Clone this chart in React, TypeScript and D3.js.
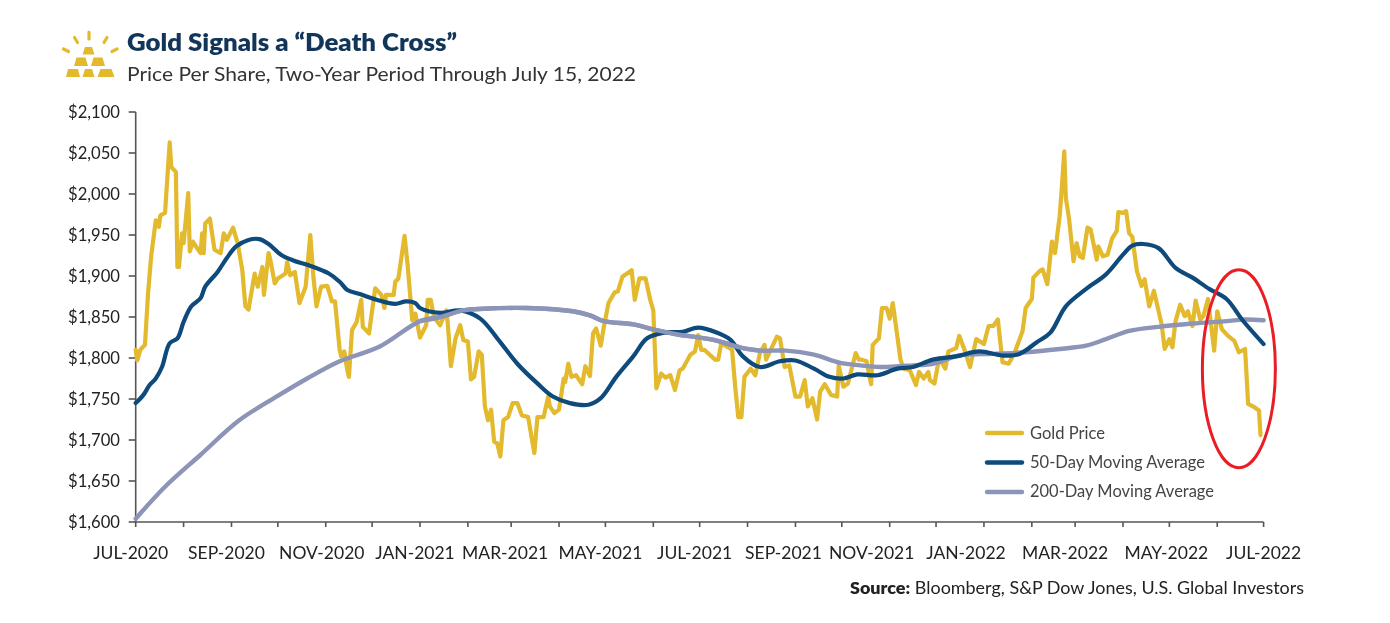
import React from "react";
import * as d3 from "d3";

const startDate = new Date(2020, 6, 15);
const endDate = new Date(2022, 6, 15);

// days since 15 Jul 2020 / price in USD
const goldDays = [0,1,3,6,8,10,13,15,16,19,22,23,26,27,28,30,31,34,35,37,39,42,43,44,45,48,51,55,57,59,63,66,69,71,73,77,79,82,83,86,87,90,92,97,98,100,103,106,110,113,115,117,120,124,127,129,132,133,135,137,138,140,143,146,147,151,155,159,161,162,167,168,170,174,176,179,181,184,188,189,191,193,197,201,202,204,207,210,212,215,217,219,222,224,226,228,230,232,234,236,238,241,244,247,250,254,258,260,264,267,268,271,274,277,278,280,282,285,289,291,294,296,298,301,303,306,310,312,315,318,321,323,326,330,333,335,337,340,343,346,349,352,354,359,362,364,366,368,375,377,379,386,388,390,392,394,398,401,404,407,408,415,417,420,423,427,430,433,435,438,441,443,446,450,454,455,458,461,466,468,470,473,476,477,481,483,486,488,490,495,497,501,505,507,510,513,514,517,520,524,526,531,533,537,540,544,549,552,555,558,561,565,569,574,576,580,581,585,587,590,593,595,598,599,601,602,604,607,609,611,613,616,618,622,623,626,629,632,635,636,639,641,643,645,648,651,653,656,659,664,666,669,671,673,676,679,681,684,686,689,691,694,698,700,703,707,711,714,718,720,724,727,728];
const goldPrice = [1810,1797,1810,1816,1879,1924,1968,1960,1974,1977,2063,2033,2027,1911,1911,1952,1940,2001,1930,1942,1936,1928,1952,1928,1964,1970,1932,1928,1952,1944,1959,1940,1907,1863,1859,1903,1887,1911,1877,1928,1921,1891,1897,1903,1917,1901,1905,1867,1887,1950,1899,1863,1887,1888,1869,1869,1810,1802,1808,1785,1777,1834,1844,1871,1838,1830,1885,1877,1861,1877,1877,1893,1897,1949,1913,1846,1854,1825,1840,1871,1871,1850,1840,1858,1842,1790,1824,1840,1822,1820,1774,1777,1808,1804,1741,1724,1737,1698,1696,1680,1724,1728,1745,1745,1730,1728,1684,1728,1728,1753,1741,1733,1737,1775,1771,1793,1777,1779,1768,1790,1778,1830,1836,1815,1838,1867,1880,1881,1899,1903,1907,1871,1897,1897,1871,1858,1763,1781,1776,1779,1761,1785,1787,1804,1808,1828,1810,1810,1798,1798,1818,1810,1765,1728,1728,1777,1787,1779,1806,1816,1798,1826,1824,1789,1791,1753,1753,1773,1741,1751,1725,1759,1768,1755,1753,1791,1765,1769,1806,1798,1798,1796,1768,1816,1824,1861,1861,1848,1867,1798,1787,1785,1767,1783,1775,1783,1773,1769,1800,1787,1808,1812,1827,1807,1789,1823,1817,1839,1839,1847,1795,1793,1807,1833,1861,1872,1898,1906,1908,1890,1942,1928,1973,1997,2052,1995,1971,1918,1940,1924,1922,1959,1957,1920,1936,1924,1926,1946,1955,1978,1977,1979,1952,1948,1906,1888,1896,1863,1882,1841,1811,1823,1813,1845,1865,1851,1857,1839,1870,1847,1851,1872,1809,1857,1835,1827,1821,1807,1811,1744,1740,1736,1706];

const ma50Days = [0,5,9,13,17,22,27,31,36,42,45,53,59,65,73,80,86,94,102,112,125,132,137,145,156,168,175,181,184,197,210,223,234,247,260,270,281,293,301,311,322,331,342,354,364,376,385,393,404,417,427,439,449,458,467,480,493,503,516,531,546,561,572,583,592,602,615,628,639,645,652,662,673,684,695,706,716,730];
const ma50Price = [1745,1755,1767,1775,1789,1818,1824,1844,1863,1873,1887,1905,1922,1936,1944,1945,1939,1926,1919,1913,1903,1893,1883,1878,1871,1866,1869,1867,1861,1855,1858,1848,1824,1793,1769,1753,1745,1743,1751,1777,1802,1824,1831,1832,1837,1831,1822,1802,1789,1796,1797,1787,1777,1775,1780,1779,1787,1789,1798,1802,1808,1803,1805,1819,1831,1863,1884,1902,1926,1937,1939,1934,1910,1898,1884,1872,1847,1817];

const ma200Days = [0,19,42,67,93,111,132,158,184,197,212,225,253,283,294,303,322,337,350,374,393,404,421,439,456,469,482,503,516,533,555,576,598,615,628,643,662,684,706,718,730];
const ma200Price = [1604,1643,1682,1724,1755,1775,1796,1814,1845,1850,1858,1860,1861,1857,1852,1845,1841,1834,1829,1822,1812,1809,1809,1804,1794,1791,1789,1791,1793,1803,1805,1807,1811,1815,1823,1833,1838,1842,1845,1847,1846];

const yTicks = [1600,1650,1700,1750,1800,1850,1900,1950,2000,2050,2100];
const xTickLabels = ["JUL-2020","SEP-2020","NOV-2020","JAN-2021","MAR-2021","MAY-2021","JUL-2021","SEP-2021","NOV-2021","JAN-2022","MAR-2022","MAY-2022","JUL-2022"];
const xLabelNudge = [-5,-5,-4,-5,-6,-5,-5,-12,-18,-18,-10,-3,0];

const FONT = "Lato, 'Open Sans', sans-serif";
const GOLD = "#E3B92D";
const NAVY = "#0E4A7B";
const PERI = "#8C94B8";

const legendItems = [
  { label: "Gold Price", color: GOLD, width: 75 },
  { label: "50-Day Moving Average", color: NAVY, width: 175 },
  { label: "200-Day Moving Average", color: PERI, width: 184 },
];

export default function App() {
  const x = d3.scaleTime().domain([startDate, endDate]).range([135.7, 1263.6]);
  const y = d3.scaleLinear().domain([1600, 2100]).range([522, 112]);
  const date = (d: number) => d3.timeDay.offset(startDate, d);
  const line = d3
    .line<[number, number]>()
    .x((p) => x(date(p[0])))
    .y((p) => y(p[1]));
  const smooth = d3
    .line<[number, number]>()
    .x((p) => x(date(p[0])))
    .y((p) => y(p[1]))
    .curve(d3.curveCatmullRom.alpha(0.5));
  const pairs = (days: number[], vals: number[]) =>
    days.map((d, i) => [d, vals[i]] as [number, number]);

  const monthTicks = d3.range(0, 25).map((m) => new Date(2020, 6 + m, 15));

  return (
    <svg
      width={1390}
      height={623}
      style={{ position: "absolute", left: 0, top: 0, background: "#fff", filter: "blur(0.4px)" }}
      fontFamily={FONT}
    >
      {/* icon */}
      <g fill={GOLD}>
        <path d="M85 47h7l2.5 7.5h-12z" />
        <path d="M76.5 57.5h9l2.5 8.5h-14z" />
        <path d="M93.5 57.5h9l2.5 8.5h-14z" />
        <path d="M68 69h10l2 8h-14z" />
        <path d="M85 69h7l2.5 8h-12z" />
        <path d="M100.500 69h11l3 8h-17z" />
      </g>
      <g stroke={GOLD} strokeWidth={3.2} strokeLinecap="round">
        <path d="M89 32v7" />
        <path d="M74.500 37.500l3 5" />
        <path d="M107 37.500l-3 5" />
        <path d="M63.500 49l5 2.500" />
        <path d="M117 49l-5 2.500" />
      </g>

      <text x={127} y={51} fontSize={24} fontWeight={800} fill="#12365A" textLength={330} lengthAdjust="spacingAndGlyphs">
        Gold Signals a “Death Cross”
      </text>
      <text x={127} y={81} fontSize={19.5} fill="#333" textLength={509} lengthAdjust="spacingAndGlyphs">
        Price Per Share, Two-Year Period Through July 15, 2022
      </text>

      {/* axes */}
      <g stroke="#555" strokeWidth={1.6} fill="none">
        <path d={`M${x(startDate)} ${y(2100)}V${y(1600)}H${x(endDate)}`} />
        {yTicks.map((t) => (
          <path key={t} d={`M${x(startDate) - 7} ${y(t)}H${x(startDate)}`} />
        ))}
        {monthTicks.map((t) => (
          <path key={+t} d={`M${x(t)} ${y(1600)}v5`} />
        ))}
      </g>
      {yTicks.map((t) => (
        <text key={t} x={120} y={y(t) + 6} textAnchor="end" fontSize={17} fill="#222" textLength={52} lengthAdjust="spacingAndGlyphs">
          {d3.format("$,")(t)}
        </text>
      ))}
      {xTickLabels.map((l, i) => (
        <text key={l} x={x(monthTicks[i * 2]) + xLabelNudge[i]} y={559} textAnchor="middle" fontSize={17.5} fill="#222">
          {l}
        </text>
      ))}

      {/* series */}
      <g fill="none" strokeLinejoin="round" strokeLinecap="round">
        <path d={line(pairs(goldDays, goldPrice)) as string} stroke={GOLD} strokeWidth={4.2} />
        <path d={smooth(pairs(ma200Days, ma200Price)) as string} stroke={PERI} strokeWidth={4.4} />
        <path d={smooth(pairs(ma50Days, ma50Price)) as string} stroke={NAVY} strokeWidth={4.2} />
        <path d={smooth(pairs(ma200Days.slice(8, 22), ma200Price.slice(8, 22))) as string} stroke={PERI} strokeWidth={4.4} />
      </g>

      {/* highlight */}
      <ellipse
        cx={x(date(714))}
        cy={y(1787)}
        rx={36.5}
        ry={99}
        fill="none"
        stroke="#EA1C24"
        strokeWidth={3}
      />

      {/* legend */}
      {legendItems.map((it, i) => (
        <g key={it.label}>
          <path d={`M987 ${433 + i * 29.5}H1022`} stroke={it.color} strokeWidth={4.4} strokeLinecap="round" />
          <text x={1030} y={439 + i * 29} fontSize={17} fill="#444" textLength={it.width} lengthAdjust="spacingAndGlyphs">
            {it.label}
          </text>
        </g>
      ))}

      <text x={850} y={594} fontSize={17.5} fill="#222" textLength={454} lengthAdjust="spacingAndGlyphs">
        <tspan fontWeight={800}>Source:</tspan> Bloomberg, S&amp;P Dow Jones, U.S. Global Investors
      </text>
    </svg>
  );
}
